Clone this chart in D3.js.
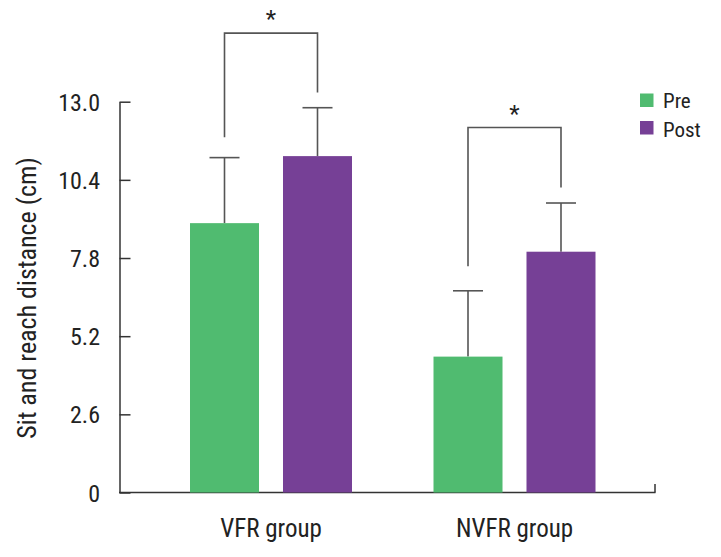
<!DOCTYPE html>
<html><head><meta charset="utf-8">
<script src="https://cdn.jsdelivr.net/npm/d3@7"></script>
<style>
html,body{margin:0;padding:0;background:#fff;}
text{font-family:"Liberation Sans Narrow","Roboto Condensed","Arial Narrow","Liberation Sans",sans-serif;fill:#222;}
</style></head>
<body>
<svg id="c" width="721" height="557"></svg>
<script>
const groups = ["VFR group", "NVFR group"];
const series = ["Pre", "Post"];
const colors = ["#50bb70", "#764096"];
const preMean = [8.96, 4.52];
const preSD = [2.18, 2.19];
const postMean = [11.19, 8.01];
const postSD = [1.61, 1.62];
const tickValues = [0, 2.6, 5.2, 7.8, 10.4, 13.0];
const tickLabels = ["0", "2.6", "5.2", "7.8", "10.4", "13.0"];
// significance brackets: top level, left leg end, right leg end (data units)
const bracketTop = [15.28, 12.14];
const bracketLeft = [11.82, 7.53];
const bracketRight = [13.31, 10.15];
const sigLabel = ["*", "*"];
const yTitle = "Sit and reach distance (cm)";

const svg = d3.select("#c");
const y = d3.scaleLinear().domain([0, 13]).range([492.5, 101.7]);
const x = d3.scalePoint().domain(groups).range([271, 514.5]);
const xs = d3.scaleBand().domain(series).range([-81, 81]).paddingInner(0.258).paddingOuter(0);
const axisColor = "#333";
const lineColor = "#555";
const fontFam = '"Liberation Sans Narrow","Roboto Condensed","Arial Narrow","Liberation Sans",sans-serif';

// y axis
const yAxis = d3.axisLeft(y).tickValues(tickValues)
  .tickFormat((d, i) => tickLabels[i]).tickSizeInner(-11).tickSizeOuter(0).tickPadding(19.5);
const ga = svg.append("g").attr("transform", "translate(119.5,0)").call(yAxis);
ga.select(".domain").attr("stroke", axisColor).attr("stroke-width", 1.5);
ga.selectAll(".tick line").attr("stroke", axisColor).attr("stroke-width", 1.5);
ga.selectAll(".tick text").attr("font-size", 24).attr("fill", "#222").attr("dy", "0.36em")
  .style("font-family", fontFam);

// x axis line
svg.append("line").attr("x1", 119).attr("x2", 655.5).attr("y1", y(0)).attr("y2", y(0))
  .attr("stroke", axisColor).attr("stroke-width", 1.5);
svg.append("line").attr("x1", 655).attr("x2", 655).attr("y1", y(0) - 8.5).attr("y2", y(0))
  .attr("stroke", axisColor).attr("stroke-width", 1.5);

// x labels
svg.selectAll("text.xl").data(groups).enter().append("text").attr("class", "xl")
  .attr("x", d => x(d)).attr("y", 537).attr("text-anchor", "middle").attr("font-size", 25)
  .text(d => d);

// y title
svg.append("text").attr("transform", "translate(36,298) rotate(-90)")
  .attr("text-anchor", "middle").attr("font-size", 26).text(yTitle);

const means = [preMean, postMean];
const sds = [preSD, postSD];
const bars = [];
groups.forEach((g, gi) => {
  series.forEach((s, si) => {
    bars.push({g, s, si, gi, v: means[si][gi], sd: sds[si][gi]});
  });
});

// error bars (behind bars)
const eg = svg.append("g");
bars.forEach(b => {
  const cx = x(b.g) + xs(b.s) + xs.bandwidth() / 2;
  eg.append("line").attr("x1", cx).attr("x2", cx).attr("y1", y(b.v)).attr("y2", y(b.v + b.sd))
    .attr("stroke", lineColor).attr("stroke-width", 1.6);
  eg.append("line").attr("x1", cx - 15).attr("x2", cx + 15).attr("y1", y(b.v + b.sd)).attr("y2", y(b.v + b.sd))
    .attr("stroke", lineColor).attr("stroke-width", 1.6);
});

svg.selectAll("rect.bar").data(bars).enter().append("rect").attr("class", "bar")
  .attr("x", d => x(d.g) + xs(d.s)).attr("width", xs.bandwidth())
  .attr("y", d => y(d.v)).attr("height", d => y(0) - y(d.v))
  .attr("fill", d => colors[d.si]);

// brackets
groups.forEach((g, gi) => {
  const xl = x(g) + xs("Pre") + xs.bandwidth() / 2;
  const xr = x(g) + xs("Post") + xs.bandwidth() / 2;
  const path = d3.path();
  path.moveTo(xl, y(bracketLeft[gi]));
  path.lineTo(xl, y(bracketTop[gi]));
  path.lineTo(xr, y(bracketTop[gi]));
  path.lineTo(xr, y(bracketRight[gi]));
  svg.append("path").attr("d", path.toString()).attr("fill", "none")
    .attr("stroke", lineColor).attr("stroke-width", 1.6);
  svg.append("text").attr("x", (xl + xr) / 2).attr("y", y(bracketTop[gi]) - 6)
    .attr("text-anchor", "middle").attr("font-size", 24).text(sigLabel[gi]);
});

// legend
const lg = svg.append("g").attr("transform", "translate(640,93.5)");
series.forEach((s, i) => {
  lg.append("rect").attr("x", 0).attr("y", i * 27.5).attr("width", 13.5).attr("height", 13.5).attr("fill", colors[i]);
  lg.append("text").attr("x", 23).attr("y", i * 28.3 + 14.8).attr("font-size", 21).text(s);
});
</script>
</body></html>
